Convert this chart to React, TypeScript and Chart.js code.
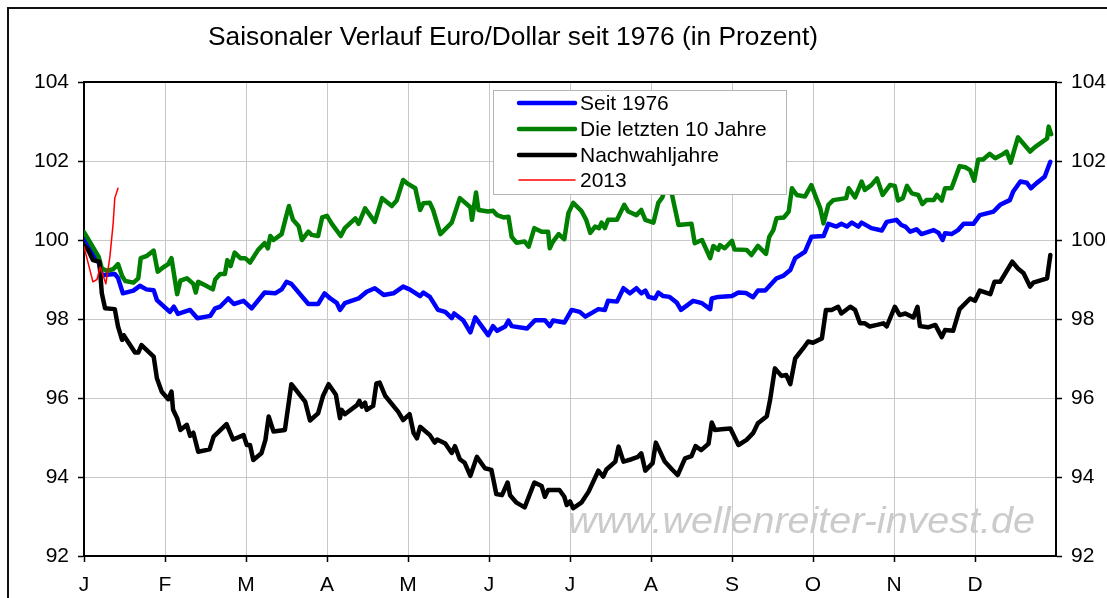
import React, { useEffect, useRef } from "react";
import { Chart, registerables } from "chart.js";

Chart.register(...registerables);

const TITLE = "Saisonaler Verlauf Euro/Dollar seit 1976 (in Prozent)";
const WATERMARK = "www.wellenreiter-invest.de";
const MONTH_LABELS = ["J", "F", "M", "A", "M", "J", "J", "A", "S", "O", "N", "D"];
const SERIES_NAMES = ["Seit 1976", "Die letzten 10 Jahre", "Nachwahljahre", "2013"];

// [month position, value]
const SEIT_1976: [number, number][] = [
  [0, 100.1], [0.11, 99.66], [0.18, 99.45], [0.22, 99.11], [0.38, 99.14], [0.42, 99.04], [0.48, 98.65],
  [0.61, 98.72], [0.69, 98.84], [0.77, 98.75], [0.86, 98.73], [0.9, 98.48], [1.06, 98.18], [1.11, 98.31],
  [1.16, 98.13], [1.31, 98.23], [1.4, 98.02], [1.56, 98.08], [1.62, 98.27], [1.68, 98.31], [1.78, 98.52],
  [1.85, 98.38], [1.97, 98.46], [2.07, 98.27], [2.23, 98.67], [2.36, 98.65], [2.44, 98.75], [2.5, 98.94],
  [2.56, 98.89], [2.77, 98.38], [2.89, 98.38], [2.97, 98.65], [3.04, 98.52], [3.12, 98.41], [3.16, 98.23],
  [3.22, 98.4], [3.39, 98.52], [3.49, 98.69], [3.59, 98.78], [3.7, 98.61], [3.82, 98.65], [3.94, 98.82],
  [4.02, 98.75], [4.15, 98.58], [4.19, 98.67], [4.27, 98.56], [4.37, 98.23], [4.46, 98.18], [4.54, 98.02],
  [4.57, 98.14], [4.68, 97.97], [4.77, 97.66], [4.83, 98.04], [4.99, 97.59], [5.05, 97.82], [5.1, 97.7],
  [5.2, 97.81], [5.24, 97.96], [5.28, 97.82], [5.47, 97.76], [5.57, 97.97], [5.69, 97.97], [5.75, 97.82],
  [5.79, 97.96], [5.93, 97.91], [6.02, 98.23], [6.12, 98.18], [6.19, 98.06], [6.35, 98.25], [6.43, 98.23],
  [6.47, 98.46], [6.58, 98.44], [6.66, 98.78], [6.74, 98.65], [6.82, 98.78], [6.88, 98.65], [6.93, 98.72],
  [6.97, 98.56], [7.05, 98.52], [7.09, 98.67], [7.15, 98.58], [7.23, 98.56], [7.32, 98.41], [7.37, 98.23],
  [7.52, 98.46], [7.63, 98.4], [7.73, 98.25], [7.75, 98.52], [7.83, 98.56], [8.0, 98.58], [8.08, 98.67],
  [8.17, 98.66], [8.26, 98.55], [8.32, 98.72], [8.41, 98.72], [8.55, 99.03], [8.63, 99.09], [8.72, 99.24],
  [8.78, 99.54], [8.9, 99.7], [8.98, 100.08], [9.13, 100.1], [9.19, 100.41], [9.29, 100.34], [9.35, 100.41],
  [9.42, 100.34], [9.48, 100.44], [9.56, 100.34], [9.6, 100.44], [9.72, 100.3], [9.85, 100.24], [9.91, 100.46],
  [10.03, 100.51], [10.09, 100.38], [10.14, 100.34], [10.2, 100.21], [10.28, 100.27], [10.34, 100.15],
  [10.49, 100.25], [10.55, 100.18], [10.6, 100.0], [10.63, 100.17], [10.71, 100.15], [10.79, 100.25],
  [10.86, 100.41], [10.98, 100.41], [11.06, 100.63], [11.23, 100.72], [11.31, 100.89], [11.43, 101.01],
  [11.47, 101.22], [11.56, 101.48], [11.64, 101.45], [11.69, 101.31], [11.76, 101.44], [11.86, 101.6],
  [11.93, 101.98],
];

const LETZTE_10_JAHRE: [number, number][] = [
  [0, 100.2], [0.07, 99.96], [0.18, 99.58], [0.22, 99.28], [0.28, 99.22], [0.36, 99.26], [0.42, 99.39],
  [0.47, 99.09], [0.51, 98.96], [0.61, 98.92], [0.67, 99.03], [0.7, 99.54], [0.77, 99.59], [0.86, 99.73],
  [0.91, 99.2], [0.98, 99.31], [1.04, 99.39], [1.08, 99.54], [1.15, 98.63], [1.19, 98.97], [1.27, 99.03],
  [1.35, 98.89], [1.38, 98.67], [1.41, 98.94], [1.49, 98.86], [1.59, 98.75], [1.62, 99.0], [1.68, 99.14],
  [1.74, 99.14], [1.77, 99.49], [1.81, 99.34], [1.86, 99.68], [1.93, 99.54], [1.99, 99.54], [2.05, 99.43],
  [2.15, 99.75], [2.23, 99.92], [2.27, 99.79], [2.3, 100.1], [2.34, 100.0], [2.44, 100.15], [2.5, 100.63],
  [2.53, 100.86], [2.58, 100.51], [2.65, 100.35], [2.69, 100.0], [2.77, 100.21], [2.81, 100.13],
  [2.89, 100.1], [2.94, 100.57], [3.0, 100.61], [3.06, 100.41], [3.17, 100.1], [3.22, 100.3], [3.35, 100.55],
  [3.39, 100.41], [3.47, 100.8], [3.59, 100.46], [3.68, 101.06], [3.8, 100.86], [3.86, 101.0], [3.94, 101.52],
  [4.0, 101.42], [4.09, 101.31], [4.15, 100.76], [4.19, 100.93], [4.27, 100.94], [4.31, 100.76],
  [4.4, 100.15], [4.54, 100.44], [4.64, 101.06], [4.77, 100.83], [4.79, 100.51], [4.84, 101.2],
  [4.87, 100.76], [4.99, 100.72], [5.05, 100.74], [5.1, 100.63], [5.18, 100.57], [5.24, 100.59],
  [5.28, 100.08], [5.34, 99.93], [5.44, 99.96], [5.49, 99.83], [5.56, 100.3], [5.65, 100.21], [5.73, 100.21],
  [5.75, 99.79], [5.79, 99.96], [5.86, 100.15], [5.93, 100.02], [5.98, 100.68], [6.04, 100.94],
  [6.14, 100.74], [6.2, 100.51], [6.25, 100.18], [6.31, 100.34], [6.36, 100.3], [6.39, 100.44], [6.43, 100.3],
  [6.47, 100.51], [6.58, 100.51], [6.67, 100.89], [6.72, 100.72], [6.82, 100.63], [6.88, 100.76],
  [6.93, 100.51], [7.03, 100.44], [7.09, 100.94], [7.14, 101.08], [7.2, 101.5], [7.26, 101.14],
  [7.34, 100.38], [7.5, 100.41], [7.54, 99.92], [7.63, 100.0], [7.73, 99.54], [7.77, 99.85], [7.83, 99.75],
  [7.85, 99.87], [7.91, 99.79], [8.0, 99.98], [8.03, 99.76], [8.18, 99.75], [8.24, 99.62], [8.32, 99.85],
  [8.42, 99.65], [8.46, 100.08], [8.51, 100.25], [8.55, 100.55], [8.64, 100.57], [8.7, 100.72],
  [8.74, 101.31], [8.8, 101.14], [8.9, 101.1], [8.98, 101.39], [9.04, 101.06], [9.09, 100.8], [9.13, 100.42],
  [9.19, 100.89], [9.25, 101.01], [9.41, 101.06], [9.44, 101.31], [9.52, 101.08], [9.6, 101.48],
  [9.64, 101.27], [9.72, 101.39], [9.79, 101.56], [9.86, 101.14], [9.95, 101.39], [10.01, 101.37],
  [10.05, 101.0], [10.11, 101.06], [10.16, 101.37], [10.22, 101.18], [10.3, 101.14], [10.35, 100.91],
  [10.4, 101.01], [10.49, 101.01], [10.53, 101.14], [10.59, 101.0], [10.63, 101.31], [10.71, 101.31],
  [10.81, 101.87], [10.88, 101.84], [10.94, 101.77], [10.99, 101.5], [11.04, 102.04], [11.1, 102.04],
  [11.18, 102.18], [11.25, 102.07], [11.35, 102.18], [11.39, 102.24], [11.44, 101.96], [11.53, 102.6],
  [11.68, 102.24], [11.74, 102.35], [11.89, 102.57], [11.91, 102.87], [11.94, 102.68],
];

const NACHWAHLJAHRE: [number, number][] = [
  [0, 99.87], [0.05, 99.75], [0.11, 99.49], [0.19, 99.45], [0.22, 98.65], [0.26, 98.27], [0.38, 98.25],
  [0.42, 97.81], [0.47, 97.47], [0.49, 97.59], [0.63, 97.15], [0.67, 97.15], [0.71, 97.34], [0.86, 97.05],
  [0.9, 96.5], [0.96, 96.16], [1.04, 95.97], [1.08, 96.16], [1.1, 95.7], [1.15, 95.49], [1.19, 95.19],
  [1.27, 95.32], [1.31, 95.04], [1.35, 95.12], [1.41, 94.64], [1.55, 94.7], [1.6, 95.02], [1.76, 95.34],
  [1.84, 94.95], [1.97, 95.06], [2.01, 94.81], [2.05, 94.81], [2.09, 94.43], [2.19, 94.6], [2.24, 94.94],
  [2.28, 95.53], [2.34, 95.15], [2.48, 95.19], [2.56, 96.35], [2.73, 95.91], [2.79, 95.43], [2.89, 95.61],
  [2.95, 96.05], [3.02, 96.35], [3.11, 96.08], [3.16, 95.49], [3.18, 95.7], [3.22, 95.59], [3.37, 95.82],
  [3.4, 95.93], [3.43, 95.78], [3.47, 95.88], [3.49, 95.7], [3.57, 95.8], [3.61, 96.37], [3.65, 96.39],
  [3.72, 96.05], [3.88, 95.65], [3.94, 95.44], [4.02, 95.59], [4.07, 95.11], [4.11, 94.98], [4.15, 95.27],
  [4.27, 95.06], [4.33, 94.87], [4.36, 94.95], [4.46, 94.85], [4.54, 94.61], [4.58, 94.78], [4.64, 94.45],
  [4.7, 94.36], [4.77, 94.03], [4.85, 94.51], [4.95, 94.22], [5.03, 94.18], [5.09, 93.57], [5.16, 93.54],
  [5.23, 93.86], [5.26, 93.54], [5.34, 93.35], [5.44, 93.23], [5.56, 93.86], [5.65, 93.77], [5.69, 93.5],
  [5.73, 93.67], [5.87, 93.67], [5.93, 93.5], [5.96, 93.29], [6.0, 93.38], [6.04, 93.21], [6.14, 93.35],
  [6.23, 93.63], [6.35, 94.16], [6.41, 94.01], [6.45, 94.19], [6.56, 94.39], [6.6, 94.77], [6.66, 94.39],
  [6.76, 94.45], [6.84, 94.51], [6.88, 94.6], [6.93, 94.16], [7.02, 94.35], [7.06, 94.87], [7.17, 94.39],
  [7.26, 94.19], [7.33, 94.05], [7.42, 94.47], [7.5, 94.53], [7.55, 94.78], [7.62, 94.68], [7.71, 94.84],
  [7.75, 95.38], [7.79, 95.19], [7.87, 95.21], [7.98, 95.23], [8.08, 94.81], [8.18, 94.94], [8.26, 95.11],
  [8.32, 95.36], [8.43, 95.54], [8.47, 95.95], [8.53, 96.75], [8.61, 96.56], [8.67, 96.58], [8.72, 96.35],
  [8.78, 97.0], [8.88, 97.26], [8.94, 97.43], [9.0, 97.4], [9.11, 97.51], [9.16, 98.23], [9.23, 98.23],
  [9.31, 98.31], [9.35, 98.14], [9.46, 98.31], [9.52, 98.23], [9.58, 97.89], [9.64, 97.89], [9.7, 97.81],
  [9.79, 97.85], [9.87, 97.89], [9.91, 97.81], [10.01, 98.31], [10.07, 98.1], [10.14, 98.14], [10.24, 98.04],
  [10.29, 98.31], [10.32, 97.82], [10.42, 97.79], [10.51, 97.85], [10.59, 97.54], [10.63, 97.72],
  [10.73, 97.7], [10.81, 98.25], [10.94, 98.52], [11.0, 98.46], [11.06, 98.72], [11.19, 98.63],
  [11.24, 98.94], [11.31, 98.94], [11.46, 99.45], [11.53, 99.28], [11.6, 99.16], [11.68, 98.82],
  [11.72, 98.92], [11.89, 99.03], [11.93, 99.62],
];

const JAHR_2013: [number, number][] = [
  [0, 99.83], [0.11, 98.94], [0.16, 99.0], [0.2, 99.32], [0.27, 98.89], [0.32, 99.58], [0.36, 100.42],
  [0.38, 101.06], [0.42, 101.31],
];

const FONT = '"Liberation Sans", Arial, sans-serif';

const toPoints = (arr: [number, number][]) => arr.map(([x, y]) => ({ x, y }));

const decorPlugin = {
  id: "decor",
  beforeDatasetsDraw(chart: any) {
    const ctx = chart.ctx;
    ctx.save();
    ctx.font = `italic 36px ${FONT}`;
    const w = ctx.measureText(WATERMARK).width;
    ctx.translate(568, 533);
    ctx.scale(467 / w, 1);
    ctx.fillStyle = "#cbcbcb";
    ctx.textAlign = "left";
    ctx.textBaseline = "alphabetic";
    ctx.fillText(WATERMARK, 0, 0);
    ctx.restore();
  },
  afterDatasetsDraw(chart: any) {
    const ctx = chart.ctx;
    const a = chart.chartArea;
    ctx.save();
    // plot area top border
    ctx.strokeStyle = "#000";
    ctx.lineWidth = 2;
    ctx.beginPath();
    ctx.moveTo(a.left, a.top);
    ctx.lineTo(a.right, a.top);
    ctx.stroke();

    // legend
    const lx = 493, ly = 90, lw = 293, lh = 104;
    ctx.fillStyle = "#fff";
    ctx.fillRect(lx, ly, lw, lh);
    ctx.strokeStyle = "#b4b4b4";
    ctx.lineWidth = 1;
    ctx.strokeRect(lx + 0.5, ly + 0.5, lw, lh);
    const rows = [103, 129, 155, 180];
    ctx.font = `21px ${FONT}`;
    ctx.textBaseline = "middle";
    ctx.textAlign = "left";
    chart.data.datasets.forEach((ds: any, i: number) => {
      const y = rows[i];
      ctx.strokeStyle = ds.borderColor;
      ctx.lineWidth = ds.borderWidth;
      ctx.lineCap = "round";
      ctx.beginPath();
      ctx.moveTo(519, y);
      ctx.lineTo(575, y);
      ctx.stroke();
      ctx.fillStyle = "#000";
      ctx.fillText(ds.label, 580, y + 1);
    });
    ctx.restore();
  },
  afterDraw(chart: any) {
    const ctx = chart.ctx;
    ctx.save();
    ctx.font = `26px ${FONT}`;
    ctx.fillStyle = "#000";
    ctx.textAlign = "left";
    ctx.textBaseline = "alphabetic";
    const tw = ctx.measureText(TITLE).width;
    ctx.translate(208, 45);
    ctx.scale(610 / tw, 1);
    ctx.fillText(TITLE, 0, 0);
    ctx.restore();
    ctx.save();
    // outer chart border
    ctx.strokeStyle = "#111";
    ctx.lineWidth = 2;
    ctx.beginPath();
    ctx.moveTo(8, 600);
    ctx.lineTo(8, 8);
    ctx.lineTo(1110, 8);
    ctx.stroke();
    ctx.restore();
  },
};

export default function App() {
  const ref = useRef<HTMLCanvasElement | null>(null);

  useEffect(() => {
    if (!ref.current) return;
    const lineDs = (label: string, data: [number, number][], color: string, width: number, order: number) => ({
      label,
      data: toPoints(data),
      borderColor: color,
      backgroundColor: color,
      borderWidth: width,
      pointRadius: 0,
      tension: 0,
      borderJoinStyle: "round" as const,
      borderCapStyle: "round" as const,
      order,
    });
    const tickFont = { family: FONT, size: 21 };
    const chart = new Chart(ref.current, {
      type: "line",
      data: {
        datasets: [
          lineDs(SERIES_NAMES[0], SEIT_1976, "#0000ff", 4.5, 3),
          lineDs(SERIES_NAMES[1], LETZTE_10_JAHRE, "#008000", 4.5, 2),
          lineDs(SERIES_NAMES[2], NACHWAHLJAHRE, "#000000", 4.5, 1),
          lineDs(SERIES_NAMES[3], JAHR_2013, "#ff0000", 1.5, 0),
        ],
      },
      options: {
        animation: false,
        responsive: false,
        maintainAspectRatio: false,
        layout: { padding: { top: 82, left: 0, right: 0, bottom: 0 } },
        plugins: {
          legend: { display: false },
          title: { display: false },
          tooltip: { enabled: false },
        },
        scales: {
          x: {
            type: "linear",
            min: 0,
            max: 12,
            afterBuildTicks: (scale: any) => {
              scale.ticks = MONTH_LABELS.map((_, i) => ({ value: i }));
            },
            afterFit: (scale: any) => {
              scale.height = 42;
            },
            ticks: {
              callback: (v: any) => MONTH_LABELS[Math.round(Number(v))] ?? "",
              font: tickFont,
              color: "#000",
              padding: 11,
              maxRotation: 0,
              autoSkip: false,
            },
            grid: { color: "#c8c8c8", lineWidth: 1, tickLength: 6, tickColor: "#000", tickWidth: 1.5 },
            border: { color: "#000", width: 2 },
          },
          y: {
            type: "linear",
            position: "left",
            min: 92,
            max: 104,
            ticks: {
              stepSize: 2,
              font: tickFont,
              color: "#000",
              padding: 9,
            },
            afterFit: (scale: any) => {
              scale.width = 84;
            },
            grid: { color: "#c8c8c8", lineWidth: 1, tickLength: 6, tickColor: "#000", tickWidth: 1.5 },
            border: { color: "#000", width: 2 },
          },
          y2: {
            type: "linear",
            position: "right",
            min: 92,
            max: 104,
            ticks: {
              stepSize: 2,
              font: tickFont,
              color: "#000",
              padding: 9,
            },
            afterFit: (scale: any) => {
              scale.width = 51;
            },
            grid: { drawOnChartArea: false, tickLength: 6, tickColor: "#000", tickWidth: 1.5 },
            border: { color: "#000", width: 2 },
          },
        },
      },
      plugins: [decorPlugin],
    });
    return () => chart.destroy();
  }, []);

  return (
    <div style={{ position: "absolute", left: 0, top: 0, width: 1107, height: 598, background: "#fff" }}>
      <canvas ref={ref} width={1107} height={598} style={{ display: "block", width: 1107, height: 598 }} />
    </div>
  );
}
